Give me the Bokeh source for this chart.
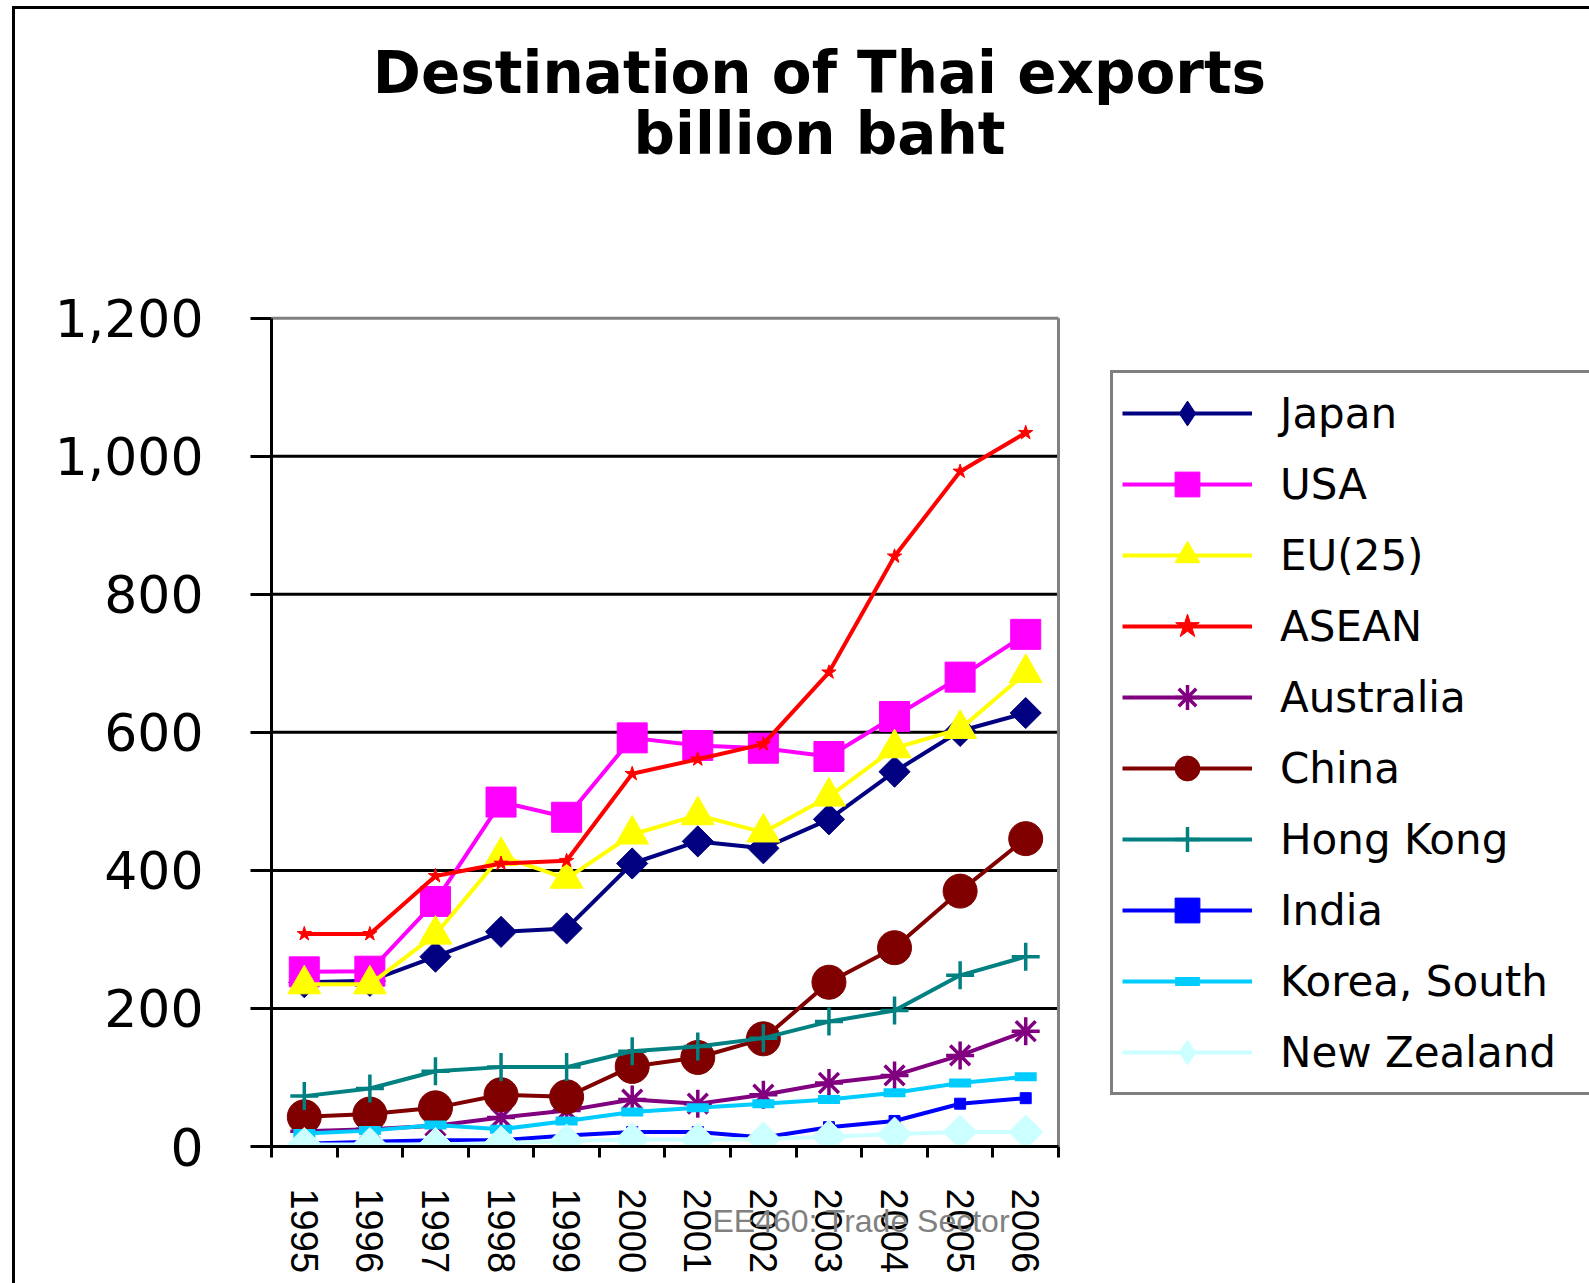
import math
from bokeh.plotting import figure
from bokeh.models import (Range1d, FixedTicker, NumeralTickFormatter, Legend, LegendItem,
                          Label, Title)
from bokeh.layouts import column
from bokeh.embed import file_html
from bokeh.resources import INLINE

years = [1995, 1996, 1997, 1998, 1999, 2000, 2001, 2002, 2003, 2004, 2005, 2006]
japan = [238, 240, 275, 311, 316, 410, 442, 432, 474, 543, 602, 628]
usa = [253, 254, 355, 499, 477, 592, 581, 577, 565, 623, 680, 742]
eu25 = [235, 235, 307, 421, 388, 452, 480, 455, 507, 577, 605, 686]
asean = [308, 308, 392, 410, 414, 540, 561, 583, 687, 855, 978, 1034]
australia = [22, 25, 30, 42, 52, 68, 62, 75, 92, 103, 132, 167]
china = [43, 47, 56, 75, 72, 116, 129, 156, 238, 288, 370, 446]
hong_kong = [73, 84, 109, 115, 115, 138, 145, 157, 181, 197, 248, 275]
india = [4, 7, 9, 9, 16, 21, 21, 13, 28, 37, 62, 70]
korea_south = [19, 23, 31, 25, 37, 50, 56, 62, 68, 78, 92, 101]
new_zealand = [3, 3, 3, 5, 8, 10, 10, 11, 14, 18, 21, 21]

series_names = ["Japan", "USA", "EU(25)", "ASEAN", "Australia", "China",
                "Hong Kong", "India", "Korea, South", "New Zealand"]
series_values = [japan, usa, eu25, asean, australia, china, hong_kong,
                 india, korea_south, new_zealand]
y_ticks = [0, 200, 400, 600, 800, 1000, 1200]

styles = [
    dict(color="#000080", marker="square", size=22, angle=math.pi / 4, diamond=True),
    dict(color="#FF00FF", marker="square", size=30, angle=0, diamond=False),
    dict(color="#FFFF00", marker="triangle", size=33, angle=0, diamond=False),
    dict(color="#FF0000", marker="star", size=15, angle=0, diamond=False),
    dict(color="#800080", marker="asterisk", size=28, angle=0, diamond=False),
    dict(color="#800000", marker="circle", size=34, angle=0, diamond=False),
    dict(color="#008080", marker="cross", size=28, angle=0, diamond=False),
    dict(color="#0000FF", marker="square", size=11, angle=0, diamond=False),
    dict(color="#00CCFF", marker="dash", size=22, angle=0, diamond=False),
    dict(color="#CCFFFF", marker="square", size=24, angle=math.pi / 4, diamond=True),
]

W, H = 1574, 1274
x0, x1 = years[0] - 0.5, years[-1] + 0.5
px_per_year = 65.583
px_per_unit = 0.69025
x_end = x0 + (W - 256) / px_per_year
y_end = 1137 / px_per_unit

p = figure(width=W, height=H, output_backend="svg", toolbar_location=None,
           x_range=Range1d(x0, x_end), y_range=Range1d(0, y_end),
           min_border_left=256, min_border_right=0,
           min_border_top=0, min_border_bottom=137)
p.title = None
p.background_fill_color = "white"
p.border_fill_color = "white"
p.outline_line_color = None

# axes
xa = p.xaxis[0]
xa.bounds = (x0, x1)
xa.ticker = FixedTicker(ticks=years, minor_ticks=[y - 0.5 for y in years] + [x1])
xa.major_label_overrides = {y: str(y) for y in years}
xa.major_tick_out = 0
xa.major_tick_in = 0
xa.minor_tick_out = 11
xa.minor_tick_in = 0
xa.minor_tick_line_width = 3
xa.minor_tick_line_color = "black"
xa.axis_line_width = 3
xa.axis_line_color = "black"
xa.major_label_orientation = -math.pi / 2
xa.major_label_standoff = 31
xa.major_label_text_font = "Liberation Sans"
xa.major_label_text_font_size = "38px"
xa.major_label_text_color = "black"

ya = p.yaxis[0]
ya.bounds = (y_ticks[0], y_ticks[-1])
ya.ticker = FixedTicker(ticks=y_ticks)
ya.formatter = NumeralTickFormatter(format="0,0")
ya.major_tick_out = 21
ya.major_tick_in = 0
ya.major_tick_line_width = 3
ya.major_tick_line_color = "black"
ya.minor_tick_line_color = None
ya.axis_line_width = 3
ya.axis_line_color = "black"
ya.major_label_standoff = 47
ya.major_label_text_font = "DejaVu Sans"
ya.major_label_text_font_size = "52px"
ya.major_label_text_color = "black"

p.xgrid.grid_line_color = None
p.ygrid.grid_line_color = None

# horizontal grid lines within the plot area, and the grey plot-area border
grid_y = y_ticks[1:-1]
p.segment(x0=[x0] * len(grid_y), y0=grid_y, x1=[x1] * len(grid_y), y1=grid_y,
          line_color="black", line_width=3)
p.segment(x0=[x1, x0], y0=[y_ticks[0], y_ticks[-1]], x1=[x1, x1],
          y1=[y_ticks[-1], y_ticks[-1]], line_color="#808080", line_width=3)

items = []
for name, vals, st in zip(series_names, series_values, styles):
    ln = p.line(years, vals, line_color=st["color"], line_width=4)
    if st["diamond"]:
        # diamond swatch for the legend, hidden beneath the rotated-square markers
        leg = p.scatter(years, vals, marker="diamond", size=28,
                        line_color=st["color"], fill_color=st["color"], line_width=1)
    if st["marker"] in ("asterisk", "cross", "dash"):
        lw = 9 if st["marker"] == "dash" else 3.5
        sc = p.scatter(years, vals, marker=st["marker"], size=st["size"],
                       line_color=st["color"], line_width=lw, fill_color=st["color"])
    else:
        sc = p.scatter(years, vals, marker=st["marker"], size=st["size"], angle=st["angle"],
                       line_color=st["color"], fill_color=st["color"], line_width=1)
    if not st["diamond"]:
        leg = sc
    items.append(LegendItem(label=name, renderers=[ln, leg]))

legend = Legend(items=items, location=(839, 51),
                border_line_color="black", border_line_width=3,
                background_fill_color="white", background_fill_alpha=1.0,
                padding=9, spacing=9, margin=0,
                glyph_width=130, glyph_height=62, label_height=62,
                label_width=340, label_standoff=28,
                label_text_font="DejaVu Sans", label_text_font_size="42px",
                label_text_color="black")
p.add_layout(legend, "center")

# title lines
title_x = x0 + (819 - 271) / px_per_year
p.add_layout(Label(x=title_x, y=1074 / px_per_unit, text="Destination of Thai exports",
                   text_font="DejaVu Sans", text_font_style="bold",
                   text_font_size="58px", text_align="center",
                   text_baseline="alphabetic", text_color="black"))
p.add_layout(Label(x=title_x, y=1013 / px_per_unit, text="billion baht",
                   text_font="DejaVu Sans", text_font_style="bold",
                   text_font_size="58px", text_align="center",
                   text_baseline="alphabetic", text_color="black"))

# footer watermark
wm = Title(text="EE460:  Trade Sector", align="left", offset=441,
           standoff=-147, vertical_align="top",
           text_font="Liberation Sans", text_font_size="32px",
           text_font_style="normal", text_color="#808080")
p.add_layout(wm, "below")

layout = column(p, styles={"border-left": "3px solid black",
                           "border-top": "3px solid black",
                           "margin-left": "12px", "margin-top": "6px"})

open("out.html", "w").write(file_html(layout, INLINE))
